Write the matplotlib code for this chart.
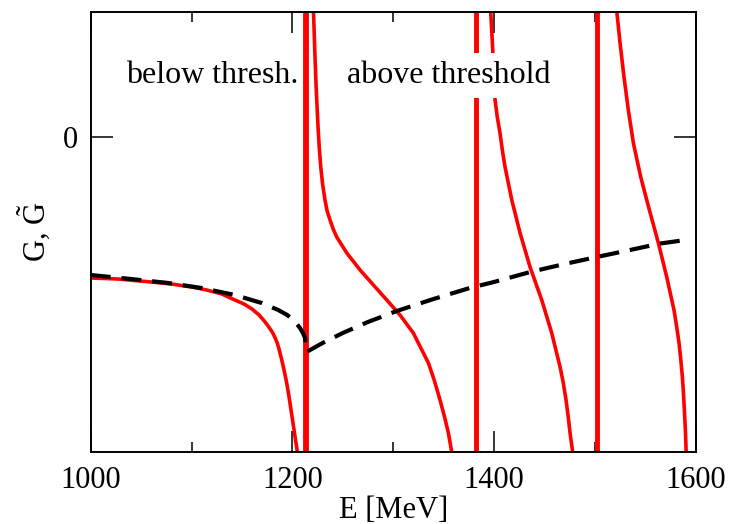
#!/usr/bin/env python
"""
loop function G (solid) and its smooth part G~ (dashed) across the threshold
"""
import numpy as np
import matplotlib
matplotlib.use("Agg")
import matplotlib.pyplot as plt

plt.rcParams['font.family'] = ['Liberation Serif', 'DejaVu Serif']
plt.rcParams['mathtext.fontset'] = 'custom'
plt.rcParams['mathtext.rm'] = 'Liberation Serif'
plt.rcParams['mathtext.it'] = 'Liberation Serif:italic'

SIZE = np.array([748, 524])

# G below threshold, runs into the first pole
g1_E = [1000, 1027, 1060, 1080, 1100, 1115, 1130, 1143, 1152, 1160, 1167, 1173, 1175.6, 1178, 1180.6,
        1183, 1185, 1186.5, 1188, 1189.5, 1192.0, 1194.4, 1196.6, 1198.7, 1200.8, 1202.7, 1205.0, 1206.5]
g1_G = [-1.41, -1.42, -1.45, -1.47, -1.50, -1.53, -1.57, -1.63, -1.67, -1.72, -1.78, -1.85, -1.885, -1.92, -1.96,
        -2.01, -2.06, -2.11, -2.17, -2.23, -2.34, -2.46, -2.59, -2.73, -2.87, -3.00, -3.15, -3.35]

# branches between the poles above threshold
g2_E = [1219.5, 1221.0, 1222.3, 1223.6, 1225.5, 1226.8, 1228.2, 1230.0, 1232.4, 1234.5, 1237.4, 1240.5,
        1244.0, 1254.0, 1267.2, 1280.4, 1293.7, 1306.8, 1320.0, 1327.0, 1335.0, 1341.0, 1346.5, 1351.0,
        1354.8, 1358.1, 1359.5]
g2_G = [1.60, 1.25, 0.85, 0.50, 0.10, -0.12, -0.30, -0.47, -0.63, -0.74, -0.83, -0.92,
        -1.00, -1.16, -1.33, -1.48, -1.63, -1.78, -1.96, -2.10, -2.26, -2.44, -2.63, -2.80,
        -2.96, -3.15, -3.30]

g3_E = [1396.0, 1396.8, 1398.8, 1399.8, 1401.1, 1403.3, 1406.0, 1408.3, 1411.0, 1417.7, 1425.9, 1435.8,
        1447.4, 1457.3, 1465.6, 1468.8, 1471.5, 1473.7, 1475.5, 1478.2, 1479.5]
g3_G = [1.40, 1.25, 0.87, 0.62, 0.37, 0.20, 0.04, -0.13, -0.30, -0.63, -0.96, -1.30,
        -1.63, -1.96, -2.30, -2.46, -2.63, -2.80, -2.96, -3.16, -3.30]

g4_E = [1521.0, 1521.7, 1525.1, 1529.0, 1533.3, 1538.3, 1545.6, 1550.0, 1554.2, 1563.1, 1571.4, 1578.6,
        1581.3, 1583.6, 1585.4, 1586.9, 1588.0, 1588.9, 1589.9, 1590.6, 1591.2]
g4_G = [1.40, 1.27, 0.94, 0.60, 0.27, -0.06, -0.40, -0.57, -0.73, -1.06, -1.40, -1.73,
        -1.90, -2.06, -2.23, -2.40, -2.56, -2.73, -2.93, -3.13, -3.30]

# narrow poles, drawn as vertical lines
poles_E = [1213.8, 1382.5, 1502.0]

# G~ (dashed)
gt_E = [1000, 1040, 1077, 1110, 1143, 1169.6, 1186, 1195, 1203, 1207.6, 1210.5, 1212.6, 1214.0,
        1230, 1250, 1275, 1303.6, 1340, 1376, 1400, 1436, 1470, 1502, 1535, 1565, 1590]
gt_G = [-1.38, -1.42, -1.46, -1.51, -1.58, -1.66, -1.73, -1.78, -1.85, -1.91, -1.96, -2.01, -2.15,
        -2.06, -1.96, -1.85, -1.74, -1.62, -1.51, -1.45, -1.35, -1.27, -1.20, -1.13, -1.065, -1.03]

if __name__ == '__main__':

    fig = plt.figure(figsize=SIZE/100., dpi=100)
    ax = fig.add_axes([0.1213, 0.1374, 0.8086, 0.8397])

    red = dict(color='#ff0000', lw=2.6, solid_capstyle='butt', solid_joinstyle='round', zorder=2)
    for E, G in [(g1_E, g1_G), (g2_E, g2_G), (g3_E, g3_G), (g4_E, g4_G)]:
        ax.plot(E, G, **red)
    pass
    for i, Ep in enumerate(poles_E):
        ax.axvline(Ep, color='#ff0000', lw=4.2 if i == 0 else 3.5, zorder=2)
    pass

    ax.plot(gt_E, gt_G, color='black', lw=3.0, linestyle=(0, (4.8, 2.6)), zorder=3)

    ax.text(1035, 0.54, "below thresh.", fontsize=23, va='baseline', ha='left', zorder=4)
    ax.text(1254, 0.54, "above threshold", fontsize=23, va='baseline', ha='left', zorder=4,
            bbox=dict(facecolor='white', edgecolor='none', pad=6))

    ax.set_xlim(1000, 1600)
    ax.set_ylim(-3.15, 1.25)
    ax.set_xticks([1000, 1200, 1400, 1600])
    ax.set_xticks([1100, 1300, 1500], minor=True)
    ax.set_yticks([0])

    ax.tick_params(which='both', direction='in', top=True, right=True, width=1.1, labelsize=22)
    ax.tick_params(axis='x', which='major', length=15, pad=10)
    ax.tick_params(axis='x', which='minor', length=7.5)
    ax.tick_params(axis='y', which='major', length=16, pad=9)
    for s in ax.spines.values():
        s.set_linewidth(1.4)
    pass

    ax.set_xlabel("E [MeV]", fontsize=22, labelpad=1)
    ax.set_ylabel(r"G, $\tilde{\mathrm{G}}$", fontsize=22, labelpad=7)

    plt.savefig("out.png", dpi=100)
